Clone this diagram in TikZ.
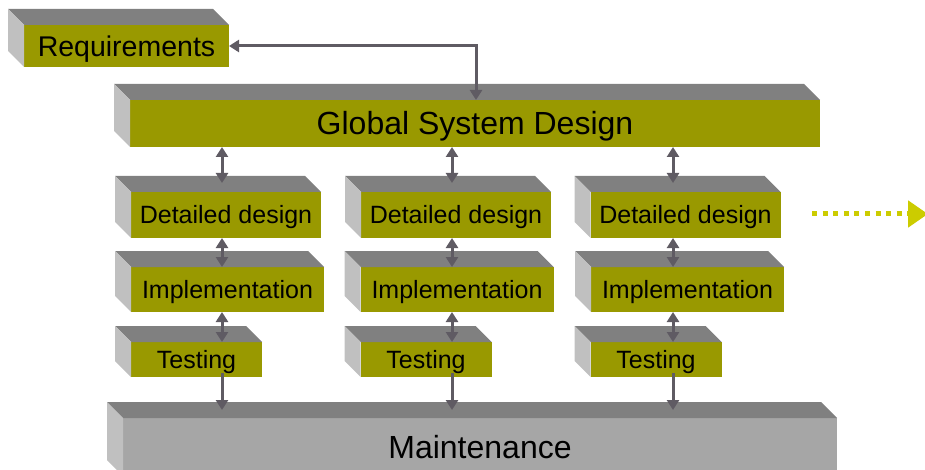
\documentclass[tikz,border=0pt]{standalone}
\usepackage{fontspec}
\setmainfont{Liberation Sans}
\usetikzlibrary{arrows.meta,calc}
\definecolor{boxolive}{HTML}{999900}
\definecolor{topgray}{HTML}{808080}
\definecolor{sidegray}{HTML}{C0C0C0}
\definecolor{maintgray}{HTML}{A6A6A6}
\definecolor{arrowgray}{HTML}{5F5B63}
\definecolor{yel}{HTML}{CCCC00}
\tikzset{
  face/.style={draw=none, inner sep=0pt, outer sep=0pt, fill=boxolive, text=black,
    text depth=0pt, align=center},
  small/.style={font=\fontsize{25}{30}\selectfont, text height=17.9pt},
  mid/.style={font=\fontsize{28.5}{34}\selectfont, text height=20.4pt},
  big/.style={font=\fontsize{32}{38}\selectfont, text height=22.9pt},
  topface/.style={fill=topgray},
  sideface/.style={fill=sidegray},
  conn/.style={draw=arrowgray, line width=3pt},
  dbl/.style={conn, {Triangle[width=12pt,length=10pt]}-{Triangle[width=12pt,length=10pt]}},
  sgl/.style={conn, -{Triangle[width=12pt,length=10pt]}},
  dotarrow/.style={draw=yel, line width=5pt, dash pattern=on 5pt off 5.6pt,
    -{Triangle[width=26pt,length=20pt]}}
}
\begin{document}
\begin{tikzpicture}[x=1pt,y=-1pt]
\useasboundingbox (0,0) rectangle (925,470);
% front faces
\node[face, mid, minimum width=205pt, minimum height=42pt] (req) at (126.5,46) {Requirements};
\node[face, big, minimum width=690pt, minimum height=47pt] (gsd) at (475,123.5) {Global System Design};
\node[face, small, minimum width=190pt, minimum height=46pt] (d1) at (226,215) {Detailed design};
\node[face, small, minimum width=190pt, minimum height=46pt] (d2) at (456,215) {Detailed design};
\node[face, small, minimum width=190pt, minimum height=46pt] (d3) at (685.5,215) {Detailed design};
\node[face, small, minimum width=193pt, minimum height=45pt] (i1) at (227.5,289.5) {Implementation};
\node[face, small, minimum width=193pt, minimum height=45pt] (i2) at (457,289.5) {Implementation};
\node[face, small, minimum width=193pt, minimum height=45pt] (i3) at (687.5,289.5) {Implementation};
\node[face, small, minimum width=131pt, minimum height=35pt] (t1) at (196.5,359.5) {Testing};
\node[face, small, minimum width=131pt, minimum height=35pt] (t2) at (426,359.5) {Testing};
\node[face, small, minimum width=131pt, minimum height=35pt] (t3) at (656,359.5) {Testing};
\node[face, big, fill=maintgray, minimum width=714pt, minimum height=58pt] (mt) at (480,447) {Maintenance};
% top and side faces
\foreach \n in {req,gsd,d1,d2,d3,i1,i2,i3,t1,t2,t3,mt}{
  \fill[topface] (\n.north west) -- (\n.north east) -- ++(-16,-16)
    -- ($(\n.north west)+(-16,-16)$) -- cycle;
  \fill[sideface] (\n.north west) -- ++(-16,-16)
    -- ($(\n.south west)+(-16,-16)$) -- (\n.south west) -- cycle;
}
% column axes
\coordinate (ax1) at (222,0);
\coordinate (ax2) at (452,0);
\coordinate (ax3) at (673,0);
% connectors
\draw[dbl] (req.east) -| ($(gsd.north)+(1,0)$);
\foreach \k in {1,2,3}{
  \draw[dbl] (gsd.south -| ax\k) -- ($(d\k.north -| ax\k)+(0,-9)$);
  \draw[dbl] (d\k.south -| ax\k) -- (i\k.north -| ax\k);
  \draw[dbl] (i\k.south -| ax\k) -- (t\k.north -| ax\k);
  \draw[sgl] ($(t\k.south -| ax\k)+(0,-4)$) -- ($(mt.north -| ax\k)+(0,-8)$);
}
\coordinate (ds) at (812,214);
\coordinate (de) at (928,214);
\draw[dotarrow] (ds) -- (de);
\end{tikzpicture}
\end{document}
